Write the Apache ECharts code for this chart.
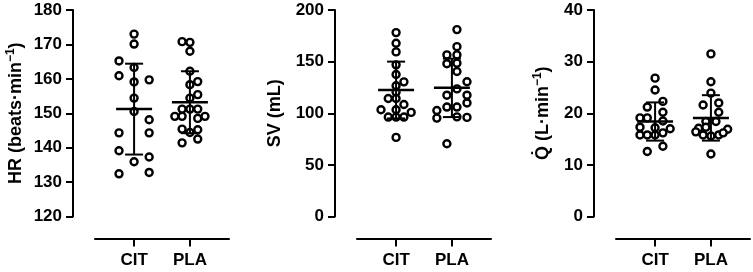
<!DOCTYPE html>
<html>
<head>
<meta charset="utf-8">
<script src="https://cdn.jsdelivr.net/npm/echarts@6/dist/echarts.min.js"></script>
<style>
  html, body { margin: 0; padding: 0; background: #fff; }
  #chart { width: 753px; height: 272px; }
</style>
</head>
<body>
<div id="chart"></div>
<script>
const groups = ["CIT", "PLA"]

// HR (beats·min-1), values and horizontal jitter (in category units)
const hrCIT = [173.0, 170.1, 165.2, 163.3, 160.9, 159.7, 159.1, 154.4, 150.5, 148.1, 144.3, 144.3, 139.1, 137.3, 135.9, 132.4, 132.8]
const hrCITx = [0, 0, -0.27, 0, -0.27, 0.27, 0, 0, 0, 0.27, -0.27, 0.27, -0.27, 0.27, 0, -0.27, 0.27]
const hrPLA = [170.8, 170.6, 168.0, 162.2, 158.3, 159.2, 154.4, 155.4, 151.2, 151.2, 151.2, 149.1, 149.1, 148.5, 149.1, 145.4, 145.2, 144.4, 141.4, 142.5]
const hrPLAx = [-0.14, 0, 0, 0, 0, 0.14, 0, 0.14, -0.14, 0, 0.14, -0.27, -0.14, 0.14, 0.27, -0.14, 0.14, 0, -0.14, 0.14]
const hrMean = [151.2, 153.2]
const hrSD = [13.2, 9.0]
const hrTicks = [120, 180, 10]

// SV (mL)
const svCIT = [178.1, 167.8, 159.4, 146.9, 137.5, 130.4, 126.6, 120.5, 114.3, 114.3, 108.5, 103.4, 103.4, 100.8, 96.3, 96.3, 96.3, 76.6]
const svCITx = [0, 0, 0, 0, 0, 0.14, 0, 0, -0.14, 0, 0.14, -0.27, 0, 0.27, -0.14, 0, 0.14, 0]
const svPLA = [181.0, 164.5, 156.5, 156.5, 148.0, 148.5, 140.4, 130.5, 123.6, 117.5, 117.5, 110.0, 106.0, 106.0, 102.7, 95.3, 96.5, 96.0, 70.5]
const svPLAx = [0.09, 0.09, -0.09, 0.09, -0.09, 0.09, 0.09, 0.27, 0.09, -0.09, 0.27, 0.27, -0.09, 0.09, -0.27, -0.27, 0.09, 0.27, -0.09]
const svMean = [122.5, 124.6]
const svSD = [27.5, 28.3]
const svTicks = [0, 200, 50]

// Q (L·min-1)
const qCIT = [26.8, 24.5, 22.3, 21.2, 20.2, 19.1, 19.1, 18.5, 17.3, 17.0, 17.2, 16.2, 15.8, 15.8, 15.8, 13.6, 12.6]
const qCITx = [0, 0, 0.14, -0.14, 0.14, -0.27, -0.14, 0.14, -0.27, 0.27, 0, 0.14, -0.27, -0.14, 0, 0.14, -0.14]
const qPLA = [31.5, 26.1, 23.9, 21.6, 22.0, 20.2, 18.4, 18.4, 17.1, 17.3, 16.9, 16.4, 15.8, 15.6, 15.8, 16.2, 12.1]
const qPLAx = [0, 0, 0, -0.14, 0.14, 0.14, -0.09, 0.09, -0.22, -0.09, 0.3, -0.27, -0.14, 0, 0.14, 0.22, 0]
const qMean = [18.4, 19.1]
const qSD = [3.7, 4.4]
const qTicks = [0, 40, 10]

const font = "Liberation Sans, Arial, sans-serif"

const panels = [
  { left: 95, ticks: hrTicks, gap: 46, name: "{t|HR (beats·min}{s|−1}{t|)}",
    values: [hrCIT, hrPLA], jitter: [hrCITx, hrPLAx], mean: hrMean, sd: hrSD },
  { left: 357, ticks: svTicks, gap: 49, name: "{t|SV (mL)}",
    values: [svCIT, svPLA], jitter: [svCITx, svPLAx], mean: svMean, sd: svSD },
  { left: 616, ticks: qTicks, gap: 40, name: "{t|Q\u0307 (L·min}{s|−1}{t|)}",
    values: [qCIT, qPLA], jitter: [qCITx, qPLAx], mean: qMean, sd: qSD },
]

const black = { color: "#000", width: 2 }

const grid = [], xAxis = [], yAxis = [], series = []

panels.forEach((p, gi) => {
  grid.push({ left: p.left, top: 10, width: 134, height: 206.5 })

  xAxis.push({
    gridIndex: gi,
    type: "value",
    min: -0.7,
    max: 1.7,
    offset: 22,
    axisLine: { show: true, onZero: false, lineStyle: black },
    axisTick: { show: true, customValues: [0, 1], length: 8, lineStyle: black },
    axisLabel: {
      customValues: [0, 1],
      formatter: (v) => groups[Math.round(v)],
      color: "#000", fontWeight: "bold", fontSize: 17, fontFamily: font, margin: 13,
    },
    splitLine: { show: false },
  })

  yAxis.push({
    gridIndex: gi,
    type: "value",
    min: p.ticks[0],
    max: p.ticks[1],
    interval: p.ticks[2],
    offset: 22,
    axisLine: { show: true, onZero: false, lineStyle: black },
    axisTick: { show: true, length: 7, lineStyle: black },
    axisLabel: { color: "#000", fontWeight: "bold", fontSize: 17, fontFamily: font, margin: 11 },
    splitLine: { show: false },
    name: p.name,
    nameLocation: "middle",
    nameGap: p.gap,
    nameTextStyle: {
      rich: {
        t: { fontSize: 18, fontWeight: "bold", fontFamily: font, color: "#000", lineHeight: 22 },
        s: { fontSize: 12, fontWeight: "bold", fontFamily: font, color: "#000", verticalAlign: "top", lineHeight: 22 },
      },
    },
  })

  // individual points
  p.values.forEach((vals, ci) => {
    series.push({
      type: "scatter",
      xAxisIndex: gi,
      yAxisIndex: gi,
      symbol: "circle",
      symbolSize: 7,
      itemStyle: { color: "#fff", borderColor: "#000", borderWidth: 2.4, opacity: 1 },
      data: vals.map((v, i) => [ci + p.jitter[ci][i], v]),
      z: 2,
    })
  })

  // mean ± SD
  series.push({
    type: "custom",
    xAxisIndex: gi,
    yAxisIndex: gi,
    z: 5,
    data: p.mean.map((m, ci) => [ci, m, p.sd[ci]]),
    renderItem: (params, api) => {
      const x = api.value(0), m = api.value(1), s = api.value(2)
      const c = api.coord([x, m])
      const top = api.coord([x, m + s])[1]
      const bot = api.coord([x, m - s])[1]
      const st = { stroke: "#000", lineWidth: 2 }
      return {
        type: "group",
        children: [
          { type: "line", shape: { x1: c[0], y1: top, x2: c[0], y2: bot }, style: st },
          { type: "line", shape: { x1: c[0] - 9, y1: top, x2: c[0] + 9, y2: top }, style: st },
          { type: "line", shape: { x1: c[0] - 9, y1: bot, x2: c[0] + 9, y2: bot }, style: st },
          { type: "line", shape: { x1: c[0] - 18, y1: c[1], x2: c[0] + 18, y2: c[1] }, style: { stroke: "#000", lineWidth: 2.5 } },
        ],
      }
    },
  })
})

const chart = echarts.init(document.getElementById("chart"))
chart.setOption({
  animation: false,
  grid,
  xAxis,
  yAxis,
  series,
})
</script>
</body>
</html>
